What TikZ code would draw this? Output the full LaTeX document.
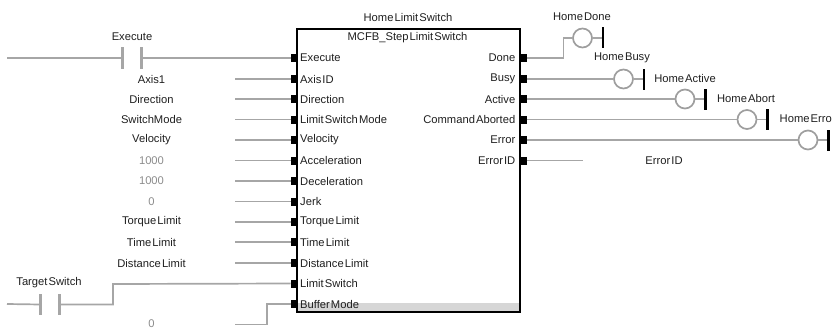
\documentclass[tikz,border=0pt]{standalone}
\usepackage{fontspec}
\setmainfont[WordSpace=0.35]{Liberation Sans}
\begin{document}
\begin{tikzpicture}[x=1pt,y=-1pt,
  lbl/.style={inner sep=0pt,font=\fontsize{11.2}{12}\selectfont,text=black!88},
  grey lbl/.style={lbl,text=black!45},
  ioport/.style={draw=none,fill=black,minimum width=6.5pt,minimum height=8pt,inner sep=0pt},
  wire/.style={draw=black!35,line width=1.7pt},
  contactbar/.style={draw=none,fill=black!35,minimum width=3pt,minimum height=21pt,inner sep=0pt},
  coilc/.style={circle,draw=black!38,line width=1.7pt,minimum size=19pt,inner sep=0pt},
  coilbar/.style={draw=none,fill=black,minimum width=2.2pt,minimum height=21pt,inner sep=0pt},
  fb/.style={draw=black,line width=2pt}]
\useasboundingbox (0,0) rectangle (832,329);
% function block
\fill[black!16] (298,303) rectangle (519,311);
\draw[fb] (297,29.5) rectangle (520,312);
\node[lbl] (inst) at (408,17.5) {Home Limit Switch};
\node[lbl] (type) at (407.5,38) {MCFB\_Step Limit Switch};
% input rows
\foreach \n/\y/\t in {1/58/Execute,2/79/Axis ID,3/99/Direction,4/119.5/Limit Switch Mode,5/140/Velocity,6/160.5/Acceleration,7/181/Deceleration,8/201.5/Jerk,9/222/Torque Limit,10/242/Time Limit,11/263/Distance Limit,12/283.5/Limit Switch,13/304/Buffer Mode}{
  \node[ioport] (in\n) at (294,\y) {};
  \node[lbl,anchor=west] (int\n) at (300,\y) {\t};
}
% output rows
\foreach \n/\y/\t in {1/58/Done,2/79/Busy,3/99/Active,4/119.5/Command Aborted,5/140/Error,6/160.5/Error ID}{
  \node[ioport] (out\n) at (523.5,\y) {};
  \node[lbl,anchor=east] (outt\n) at (515.5,\y) {\t};
}
% constants and variables at the inputs
\foreach \n/\y/\t/\s in {2/79/Axis1/lbl,3/99/Direction/lbl,4/119.5/SwitchMode/lbl,5/140/Velocity/lbl,6/160.5/1000/grey lbl,7/181/1000/grey lbl,8/201.5/0/grey lbl,9/222/Torque Limit/lbl,10/242/Time Limit/lbl,11/263/Distance Limit/lbl}{
  \node[\s] (var\n) at (151.5,\y) {\t};
  \coordinate (vs\n) at (235,\y);
  \draw[wire] (vs\n) -- (in\n.west);
}
% Execute contact
\coordinate (exs) at (7,58);
\node[contactbar] (exa) at (122.5,58) {};
\node[contactbar] (exb) at (141.5,58) {};
\node[lbl] (exl) at (132,36.5) {Execute};
\draw[wire] (exs) -- (exa);
\draw[wire] (exb) -- (in1.west);
% Target Switch contact
\coordinate (tss) at (7,304);
\node[contactbar] (tsa) at (40.5,304.5) {};
\node[contactbar] (tsb) at (59.5,304.5) {};
\node[lbl] (tsl) at (49,283) {Target Switch};
\draw[wire] (tss) -- (tsa);
\draw[wire] (tsb.center) -- (113,304.5) -- (113,284) -- (in12.west);
% Buffer mode constant
\node[grey lbl] (bm) at (151.5,323.5) {0};
\coordinate (bms) at (235,324.5);
\draw[wire] (bms) -- (267,324.5) -- (267,304) -- (in13.west);
% coils
\foreach \n/\x/\y in {1/582.5/38,2/623.5/79,3/685/99,4/747/119.5,5/808/140}{
  \node[coilc] (coil\n) at (\x,\y) {};
  \node[coilbar] (cb\n) at (\x+20.5,\y) {};
  \draw[wire] (coil\n) -- (cb\n);
}
\draw[wire] (out1.east) -- (563.5,58) -- (563.5,38) -- (coil1);
\foreach \n in {2,3,4,5}{\draw[wire] (out\n.east) -- (coil\n);}
\coordinate (eid) at (582.5,160.5);
\draw[wire] (out6.east) -- (eid);
% coil and output labels
\node[lbl] (l1) at (582,17) {Home Done};
\node[lbl] (l2) at (622,57.5) {Home Busy};
\node[lbl] (l3) at (685,78) {Home Active};
\node[lbl] (l4) at (746,98) {Home Abort};
\node[lbl,anchor=west] (l5) at (779.5,119) {Home Erro};
\node[lbl] (l6) at (664,161) {Error ID};
\end{tikzpicture}
\end{document}
